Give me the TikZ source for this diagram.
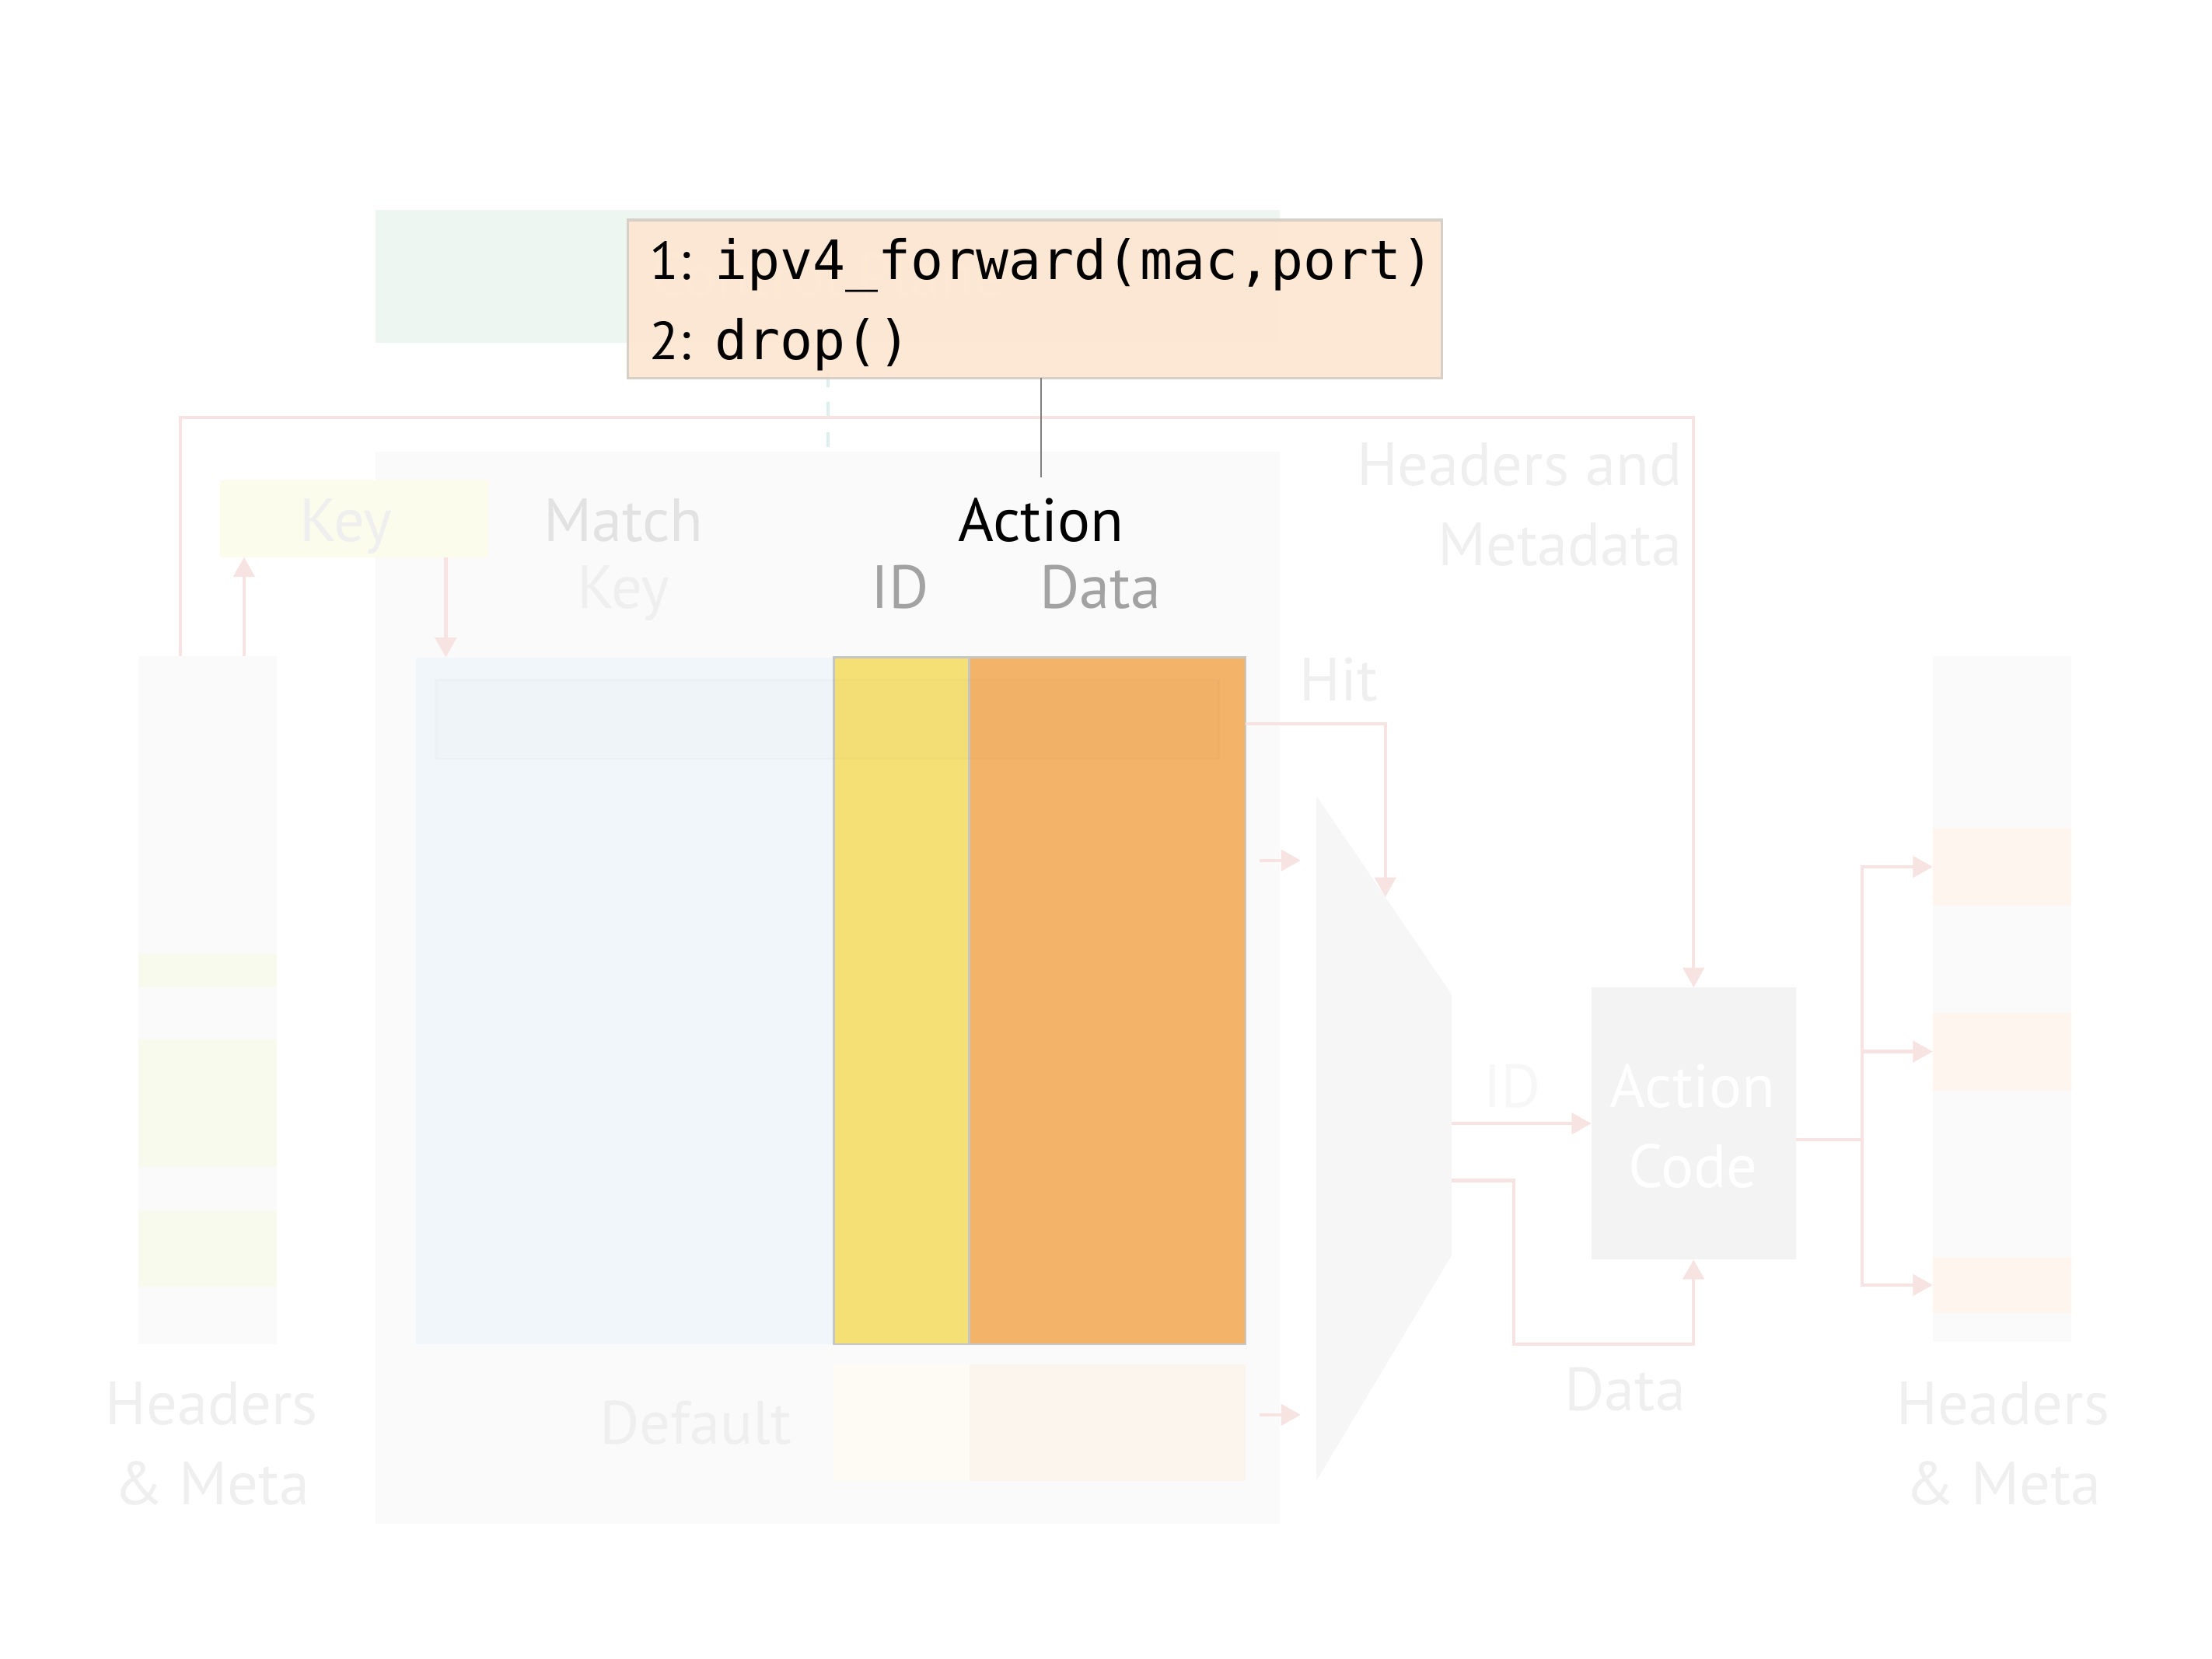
\documentclass[tikz,border=0pt]{standalone}
\usepackage{fontspec}
\setmainfont{PT Sans}
\setmonofont{DejaVu Sans Mono}
\usepackage{xcolor}
\usepackage{tikz}
\usetikzlibrary{arrows.meta,positioning}

\definecolor{cpgreen}{HTML}{EEF6F1}
\definecolor{codepeach}{HTML}{FDE6D0}
\definecolor{codeedge}{HTML}{D6D0C8}
\definecolor{flowpink}{HTML}{F7E3E1}
\definecolor{tablegray}{HTML}{FAFAFA}
\definecolor{keyyellow}{HTML}{FBFCEC}
\definecolor{matchblue}{HTML}{F1F6FB}
\definecolor{idyellow}{HTML}{F5E076}
\definecolor{dataorange}{HTML}{F3B469}
\definecolor{defid}{HTML}{FDFBF4}
\definecolor{defdata}{HTML}{FCF5ED}
\definecolor{hdrgray}{HTML}{FAFAFA}
\definecolor{hdryellow}{HTML}{F9FAEE}
\definecolor{hdrorange}{HTML}{FDF5EE}
\definecolor{muxgray}{HTML}{F6F6F6}
\definecolor{acgray}{HTML}{F3F3F3}
\definecolor{fadetext}{HTML}{EFEFEF}
\definecolor{matchtext}{HTML}{E2E2E2}
\definecolor{coltext}{HTML}{A2A2A2}
\definecolor{dashteal}{HTML}{DDEFEC}

\tikzset{
  lbl/.style={font=\fontsize{12.3}{16.2}\selectfont, inner sep=0pt, anchor=base},
  fadelbl/.style={lbl, text=fadetext},
  codelbl/.style={font=\fontsize{10.8}{16.2}\selectfont, inner sep=0pt, anchor=base west},
  blk/.style={anchor=north west, inner sep=0pt, outer sep=0pt},
  flowln/.style={draw=flowpink, line width=0.7pt},
  flow/.style={flowln, -{Triangle[length=1.4mm,width=1.5mm]}}
}

\begin{document}
\begin{tikzpicture}[x=1cm,y=-1cm]
  \useasboundingbox (0,0) rectangle (15.68,11.76);
  % --- Control plane ---
  \node[blk, fill=cpgreen, minimum width=6.41cm, minimum height=0.94cm] (cp) at (2.66,1.49) {};
  \node[lbl, text=white] (cplbl) at (5.87,2.10) {Control Plane};
  \coordinate (cpdrop) at (5.87,4.80);
  \draw[dashteal, dashed, line width=0.6pt, -{Triangle[length=1.4mm,width=1.5mm]}] (cp.south -| cpdrop) -- (cpdrop);
  % --- Table ---
  \node[blk, fill=tablegray, minimum width=6.41cm, minimum height=7.60cm] (tbl) at (2.66,3.20) {};
  \node[blk, fill=keyyellow, minimum width=1.90cm, minimum height=0.55cm] (key) at (1.56,3.40) {};
  \node[fadelbl] (keylbl) at (2.45,3.84) {Key};
  \node[lbl, text=matchtext] (matchlbl) at (4.42,3.84) {Match};
  \node[fadelbl] (mkeylbl) at (4.42,4.31) {Key};
  \node[lbl] (act) at (7.38,3.84) {Action};
  \node[lbl, text=coltext] (idlbl) at (6.38,4.31) {ID};
  \node[lbl, text=coltext] (datalbl) at (7.80,4.31) {Data};
  \node[blk, fill=matchblue, minimum width=2.96cm, minimum height=4.87cm] (mcol) at (2.95,4.66) {};
  \node[blk, fill=idyellow, draw=gray!45, line width=0.4pt, minimum width=0.96cm, minimum height=4.87cm] (idcol) at (5.91,4.66) {};
  \node[blk, fill=dataorange, draw=gray!45, line width=0.4pt, minimum width=1.96cm, minimum height=4.87cm] (datacol) at (6.87,4.66) {};
  \node[blk, fill=black, fill opacity=0.008, draw=black, draw opacity=0.015, minimum width=5.55cm, minimum height=0.56cm] (hitrow) at (3.09,4.82) {};
  \node[blk, fill=defid, minimum width=0.96cm, minimum height=0.83cm] (defidcol) at (5.91,9.67) {};
  \node[blk, fill=defdata, minimum width=1.96cm, minimum height=0.83cm] (defdatacol) at (6.87,9.67) {};
  \node[fadelbl] (deflbl) at (4.93,10.24) {Default};
  % --- Headers in ---
  \node[blk, fill=hdrgray, minimum width=0.98cm, minimum height=4.88cm] (hin) at (0.98,4.65) {};
  \node[blk, fill=hdryellow, minimum width=0.98cm, minimum height=0.24cm] (ls1) at (0.98,6.76) {};
  \node[blk, fill=hdryellow, minimum width=0.98cm, minimum height=0.90cm] (ls2) at (0.98,7.37) {};
  \node[blk, fill=hdryellow, minimum width=0.98cm, minimum height=0.54cm] (ls3) at (0.98,8.58) {};
  \node[fadelbl] (hinlbl) at (1.50,10.10) {Headers};
  \node[fadelbl] (hinlblb) at (1.50,10.67) {\& Meta};
  \draw[flow] ([xshift=7.5mm]hin.north west) -- ([xshift=7.5mm]hin.north west |- key.south);
  \draw[flow] ([xshift=-3mm]key.south east) -- ([xshift=-3mm]key.south east |- mcol.north);
  % --- Headers and metadata loop ---
  \coordinate (looptop) at (0,2.96);
  \node[fadelbl, anchor=base east] (hmlbl) at (11.93,3.44) {Headers and};
  \node[fadelbl, anchor=base east] (hmlblb) at (11.93,4.01) {Metadata};
  % --- Mux ---
  \coordinate (mtl) at (9.33,5.64);
  \coordinate (mtr) at (10.29,7.05);
  \coordinate (mbr) at (10.29,8.90);
  \coordinate (mbl) at (9.33,10.50);
  \fill[muxgray] (mtl) -- (mtr) -- (mbr) -- (mbl) -- cycle;
  \coordinate (hitin) at (9.82,6.36);
  \coordinate (in1) at (9.33,6.10);
  \coordinate (in2) at (9.33,10.03);
  \coordinate (dout) at (10.29,8.37);
  \coordinate (dlow) at (10.73,9.53);
  \draw[flow] ([xshift=1mm]datacol.east |- in1) -- ([xshift=-1.1mm]in1);
  \draw[flow] ([xshift=1mm]datacol.east |- in2) -- ([xshift=-1.1mm]in2);
  \draw[flow] ([yshift=-4.7mm]datacol.north east) -| (hitin);
  \node[fadelbl] (hitlbl) at (9.49,4.97) {Hit};
  % --- Action code ---
  \node[blk, fill=acgray, minimum width=1.45cm, minimum height=1.93cm] (ac) at (11.28,7.00) {};
  \node[lbl, text=white] (aclbl) at (12.00,7.85) {Action};
  \node[lbl, text=white] (aclblb) at (12.00,8.42) {Code};
  \draw[flow] ([xshift=3mm]hin.north west) |- (ac.north |- looptop) -- (ac.north);
  \draw[flow] (ac.west -| mbr) -- (ac.west);
  \node[lbl, text=white!97!black] (idout) at (10.72,7.85) {ID};
  \draw[flow] (dout) -| (dlow) -| (ac.south);
  \node[fadelbl] (dataout) at (11.52,10.00) {Data};
  % --- Headers out ---
  \node[blk, fill=hdrgray, minimum width=0.98cm, minimum height=4.86cm] (hout) at (13.70,4.65) {};
  \node[blk, fill=hdrorange, minimum width=0.98cm, minimum height=0.55cm] (rs1) at (13.70,5.87) {};
  \node[blk, fill=hdrorange, minimum width=0.98cm, minimum height=0.55cm] (rs2) at (13.70,7.18) {};
  \node[blk, fill=hdrorange, minimum width=0.98cm, minimum height=0.40cm] (rs3) at (13.70,8.91) {};
  \node[fadelbl] (houtlbl) at (14.20,10.10) {Headers};
  \node[fadelbl] (houtlblb) at (14.20,10.67) {\& Meta};
  \coordinate (fan) at (13.20,8.08);
  \draw[flowln] (ac.east |- fan) -- (fan);
  \draw[flow] (fan) |- (rs1.west);
  \draw[flow] (fan) |- (rs2.west);
  \draw[flow] (fan) |- (rs3.west);
  % --- Action table entries ---
  \node[blk, fill=codepeach, fill opacity=0.9, draw=codeedge, line width=0.5pt, minimum width=5.77cm, minimum height=1.12cm] (code) at (4.45,1.56) {};
  \node[codelbl] (code1) at (4.60,1.98) {1:\hspace{0.45em}\texttt{\fontsize{10.95}{16.2}\selectfont ipv4\_forward(mac,port)}};
  \node[codelbl] (code2) at (4.60,2.55) {2:\hspace{0.45em}\texttt{\fontsize{10.95}{16.2}\selectfont drop()}};
  \draw[black!50, line width=0.45pt] (act.north |- code.south) -- ([yshift=1.4mm]act.north);
\end{tikzpicture}
\end{document}
